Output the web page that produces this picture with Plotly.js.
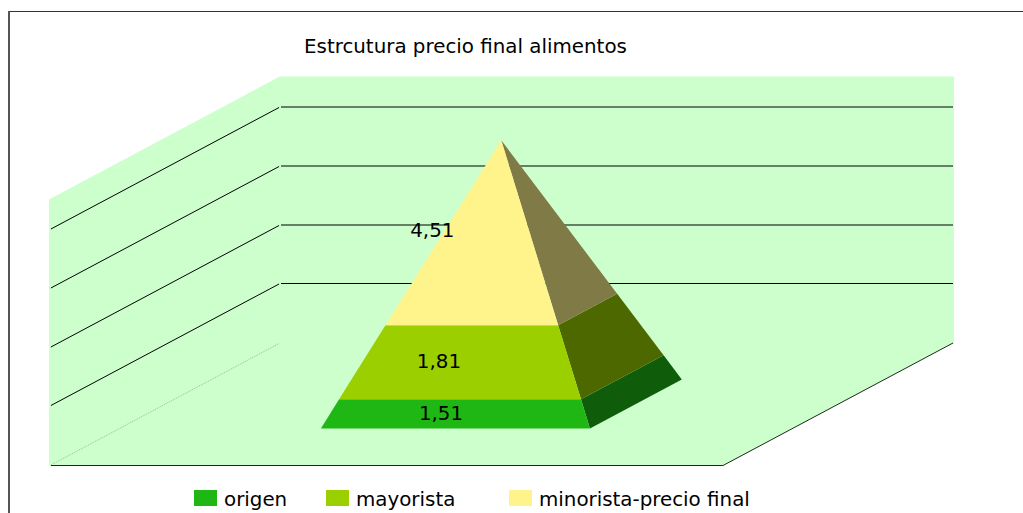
<!DOCTYPE html>
<html>
<head>
<meta charset="utf-8">
<script src="https://cdn.plot.ly/plotly-3.0.1.min.js"></script>
<style>html,body{margin:0;padding:0;background:#fff;overflow:hidden}#chart{width:1023px;height:513px}</style>
</head>
<body>
<div id="chart"></div>
<script>
// ---- chart data ----
const chartTitle = "Estrcutura precio final alimentos";
const categories = ["origen", "mayorista", "minorista-precio final"];
const values = [1.51, 1.81, 4.51];
const valueLabels = ["1,51", "1,81", "4,51"];
// where each layer ends on the value axis
const layerTops = [0.45, 1.6, 4.47];
const gridLevels = [1.0085, 2, 3, 4];

// ---- styling ----
const faceColors = ["#1fb714", "#9ccf00", "#fff38c"];
const sideColors = ["#0f5c0a", "#4e6800", "#807a46"];
const wallColor = "#ccffcc";
const wallTop = 4.5;
const FONT = "'DejaVu Sans', Verdana, sans-serif";
const FONT_SIZE = 19.85;

// ---- oblique projection onto the plot's axes ----
const W = 1023, H = 513;
const originX = 50, originY = 465.5, pxPerWidth = 673, pxPerLevel = 59;
const shearX = 230 / pxPerWidth, shearY = 122.5 / pxPerLevel;
const px = (u, d) => u + d * shearX;
const py = (d, h) => h + d * shearY;
const poly = pts => ({ x: pts.map(p => px(p[0], p[1])), y: pts.map(p => py(p[1], p[2])) });

function area(pts, color, outline) {
  const c = poly(pts.concat([pts[0]]));
  return { type: "scatter", mode: "lines", x: c.x, y: c.y, fill: "toself", fillcolor: color,
           line: { color: color, width: outline ? 2 : 0 }, hoverinfo: "skip", showlegend: false };
}
function path(pts, color, width, dash) {
  const c = poly(pts);
  return { type: "scatter", mode: "lines", x: c.x, y: c.y,
           line: { color: color, width: width, dash: dash || "solid" }, hoverinfo: "skip", showlegend: false };
}

const traces = [];
// walls and floor
traces.push(area([[0,0,0],[0,0,wallTop],[0,1,wallTop],[1,1,wallTop],[1,1,0],[0,1,0],[0,0,0]], wallColor, true));
traces.push(area([[0,0,0],[1,0,0],[1,1,0],[0,1,0]], wallColor, false));
// grid lines
gridLevels.forEach(g => {
  traces.push(path([[0,0.004,g],[0,0.996,g]], "#000000", 1));
  traces.push(path([[0.0015,1,g],[1,1,g]], "#000000", 1));
});
traces.push(path([[0,0.004,0],[0,0.996,0]], "#9dbb9d", 1, "1px,1px"));
traces.push(path([[0.0015,0,0],[1,0,0],[1,1,0]], "#1a2a1a", 1));

// pyramid
const FL = [0.299, 0.303, 0], FR = [0.6987, 0.303, 0], BR = [0.6987, 0.7025, 0];
const apex = [0.4987, 0.5027, layerTops[2]];
const at = (c, h) => { const t = h / apex[2]; return [c[0]+(apex[0]-c[0])*t, c[1]+(apex[1]-c[1])*t, h]; };
values.forEach((v, i) => {
  const h0 = i ? layerTops[i-1] : 0, h1 = layerTops[i];
  traces.push(area([at(FR,h0), at(BR,h0), at(BR,h1), at(FR,h1)], sideColors[i], false));
  traces.push(area([at(FL,h0), at(FR,h0), at(FR,h1), at(FL,h1)], faceColors[i], false));
});

// value labels on the front face
const labelU = [0.4774, 0.4744, 0.4645], labelH = [0.225, 1.105, 3.32];
const lab = poly(labelU.map((u, i) => [u, 0.303, labelH[i]]));
traces.push({ type: "scatter", mode: "text", x: lab.x, y: lab.y, text: valueLabels,
  textposition: "middle center", textfont: { family: FONT, size: FONT_SIZE, color: "#000" },
  hoverinfo: "skip", showlegend: false, cliponaxis: false });

// legend + frame
const swatchX = [194, 326, 509], swatchW = 23, swatchTop = 490, swatchBot = 506, legendTextDx = 28.7;
const shapes = [], annotations = [];
const pageLine = (x0,y0,x1,y1,color,width) => ({ type:"line", xref:"paper", yref:"paper",
  x0:x0/W, x1:x1/W, y0:1-y0/H, y1:1-y1/H, line:{color:color,width:width} });
shapes.push(pageLine(8, 11.5, W, 11.5, "#333333", 1));
shapes.push(pageLine(9, 11, 9, H, "#555555", 2));
categories.forEach((c, i) => {
  shapes.push({ type:"rect", xref:"paper", yref:"paper", x0:swatchX[i]/W, x1:(swatchX[i]+swatchW)/W,
    y0:1-swatchBot/H, y1:1-swatchTop/H, fillcolor:faceColors[i], line:{width:0} });
  annotations.push({ xref:"paper", yref:"paper", x:(swatchX[i]+legendTextDx)/W, y:1-499/H, text:c,
    xanchor:"left", yanchor:"middle", showarrow:false, borderpad:0,
    font:{ family:FONT, size:FONT_SIZE, color:"#000" } });
});

const layout = {
  width: W, height: H, margin: { l:0, r:0, t:0, b:0 }, paper_bgcolor:"#fff", plot_bgcolor:"rgba(0,0,0,0)",
  showlegend:false, hovermode:false,
  title: { text: chartTitle, x: 304/W, xanchor:"left", y: 1-46/H, yanchor:"middle",
           font:{ family:FONT, size:FONT_SIZE, color:"#000" } },
  xaxis: { visible:false, range:[-originX/pxPerWidth, (W-originX)/pxPerWidth], fixedrange:true },
  yaxis: { visible:false, range:[(originY-H)/pxPerLevel, originY/pxPerLevel], fixedrange:true },
  shapes, annotations
};
Plotly.newPlot("chart", traces, layout, { displayModeBar:false, staticPlot:true });
</script>
</body>
</html>
